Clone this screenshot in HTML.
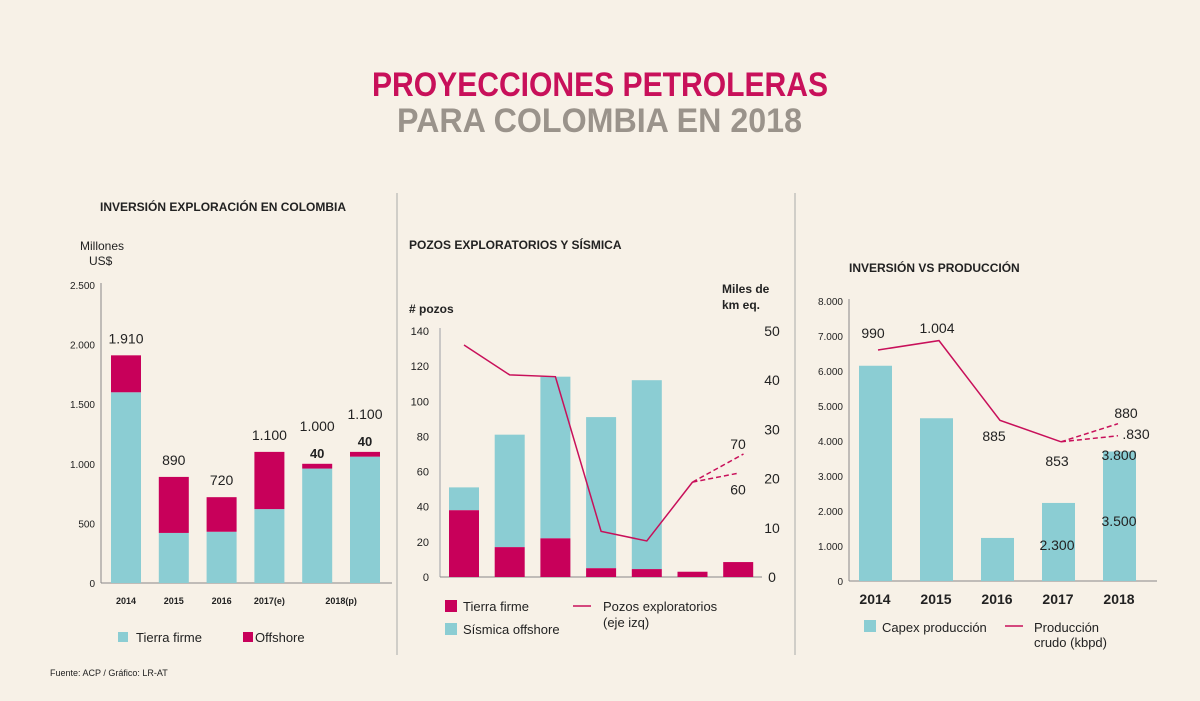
<!DOCTYPE html>
<html><head><meta charset="utf-8"><style>
html,body{margin:0;padding:0;background:#f7f1e7;}
svg{display:block;font-family:"Liberation Sans",sans-serif;}
</style></head><body>
<svg id="s" width="1200" height="701" viewBox="0 0 1200 701">
<rect width="1200" height="701" fill="#f7f1e7"/>
<text x="372" y="96" textLength="456" lengthAdjust="spacingAndGlyphs" font-size="34" font-weight="bold" fill="#c8105a">PROYECCIONES PETROLERAS</text>
<text x="397" y="132" textLength="405" lengthAdjust="spacingAndGlyphs" font-size="34" font-weight="bold" fill="#9a938b">PARA COLOMBIA EN 2018</text>
<line x1="397" y1="193" x2="397" y2="655" stroke="#aaa" stroke-width="1"/>
<line x1="795" y1="193" x2="795" y2="655" stroke="#aaa" stroke-width="1"/>
<text x="100" y="211" font-size="12" font-weight="bold" fill="#222">INVERSIÓN EXPLORACIÓN EN COLOMBIA</text>
<text x="409" y="249" font-size="12" font-weight="bold" fill="#222">POZOS EXPLORATORIOS Y SÍSMICA</text>
<text x="849" y="272" font-size="12" font-weight="bold" fill="#222">INVERSIÓN VS PRODUCCIÓN</text>
<text x="80" y="250" font-size="12" fill="#222">Millones</text>
<text x="89" y="265" font-size="12" fill="#222">US$</text>
<text x="409" y="313" font-size="12" font-weight="bold" fill="#222"># pozos</text>
<text x="722" y="293" font-size="12" font-weight="bold" fill="#222">Miles de</text>
<text x="722" y="309" font-size="12" font-weight="bold" fill="#222">km eq.</text>
<text x="50" y="676" font-size="9" fill="#222">Fuente: ACP / Gráfico: LR-AT</text>
<rect x="118" y="632" width="10" height="10" fill="#8bcdd3"/>
<text x="136" y="642" font-size="13" fill="#222">Tierra firme</text>
<rect x="243" y="632" width="10" height="10" fill="#c8005a"/>
<text x="255" y="642" font-size="13" fill="#222">Offshore</text>
<rect x="445" y="600" width="12" height="12" fill="#c8005a"/>
<text x="463" y="611" font-size="13" fill="#222">Tierra firme</text>
<rect x="445" y="623" width="12" height="12" fill="#8bcdd3"/>
<text x="463" y="634" font-size="13" fill="#222">Sísmica offshore</text>
<line x1="573" y1="606" x2="591" y2="606" stroke="#c8105a" stroke-width="1.5"/>
<text x="603" y="611" font-size="13" fill="#222">Pozos exploratorios</text>
<text x="603" y="627" font-size="13" fill="#222">(eje izq)</text>
<rect x="864" y="620" width="12" height="12" fill="#8bcdd3"/>
<text x="882" y="632" font-size="13" fill="#222">Capex producción</text>
<line x1="1005" y1="626" x2="1023" y2="626" stroke="#c8105a" stroke-width="1.5"/>
<text x="1034" y="632" font-size="13" fill="#222">Producción</text>
<text x="1034" y="647" font-size="13" fill="#222">crudo (kbpd)</text>
</svg>
<script>
// Chart 1 data
const c1Cats=["2014","2015","2016","2017(e)","",""];
const c1Tierra=[1600,420,430,620,960,1060];
const c1Total=[1910,890,720,1100,1000,1100];
const c1Ticks=[0,500,1000,1500,2000,2500];
const c1TickLabels=["0","500","1.000","1.500","2.000","2.500"];
const c1Labels=["1.910","890","720","1.100","1.000","1.100"];
const c1Sub=["","","","","40","40"];
// Chart 2 data
const c2Tierra=[38,17,22,5,4.5,3,8.5];
const c2Total=[51,81,114,91,112,3,8.5];
const c2Pozos=[132,115,114,26,20.5,54];
const c2ProjHigh=70, c2ProjLow=59;
const c2LeftTicks=[0,20,40,60,80,100,120,140];
const c2RightTicks=[0,10,20,30,40,50];
// Chart 3 data
const c3Cats=["2014","2015","2016","2017","2018"];
const c3Capex=[6150,4650,1230,2230,3700];
const c3Prod=[990,1004,885,853];
const c3ProjHigh=880, c3ProjLow=830;
const c3Ticks=[0,1000,2000,3000,4000,5000,6000,7000,8000];
const c3TickLabels=["0","1.000","2.000","3.000","4.000","5.000","6.000","7.000","8.000"];

const NS="http://www.w3.org/2000/svg", S=document.getElementById('s');
const TEAL="#8bcdd3", RED="#c8005a", LINE="#c8105a";
function mk(t,a,txt){const e=document.createElementNS(NS,t);for(const k in a)e.setAttribute(k,a[k]);if(txt!==undefined)e.textContent=txt;S.appendChild(e);return e;}

// Chart 1
const y1=v=>583-v*298/2500, x1=i=>111+i*47.8;
let e=mk('line',{x1:101,y1:283,x2:101,y2:583,stroke:'#888'});


e=mk('line',{x1:101,y1:583,x2:392,y2:583,stroke:'#888'});


c1Ticks.forEach((t,i)=>{e=mk('text',{x:95,y:y1(t)+4,'font-size':10,'text-anchor':'end',fill:'#222'},c1TickLabels[i]);

});
c1Total.forEach((tot,i)=>{
 const x=x1(i);
 e=mk('rect',{x:x,y:y1(c1Tierra[i]),width:30,height:583-y1(c1Tierra[i]),fill:TEAL});
 
 
 e=mk('rect',{x:x,y:y1(tot),width:30,height:y1(c1Tierra[i])-y1(tot),fill:RED});
 
 
 const sub=c1Sub[i];
 e=mk('text',{x:x+15,y:y1(tot)-(sub?33:12),'font-size':14,'text-anchor':'middle',fill:'#222'},c1Labels[i]);
 
 
 if(sub){e=mk('text',{x:x+15,y:y1(tot)-6,'font-size':13,'font-weight':'bold','text-anchor':'middle',fill:'#222'},sub);
 
 }
 if(c1Cats[i]){e=mk('text',{x:x+15,y:604,'font-size':9,'font-weight':'bold','text-anchor':'middle',fill:'#222'},c1Cats[i]);
 
 }
});
e=mk('text',{x:x1(4.5)+15,y:604,'font-size':9,'font-weight':'bold','text-anchor':'middle',fill:'#222'},"2018(p)");



// Chart 2
const y2=v=>577-v*246/140, yr=v=>577-v*246/50, x2=i=>449+i*45.7;
e=mk('line',{x1:440,y1:328,x2:440,y2:577,stroke:'#bbb',"stroke-width":1.5});


e=mk('line',{x1:440,y1:577,x2:762,y2:577,stroke:'#888'});


c2LeftTicks.forEach(t=>{e=mk('text',{x:429,y:y2(t)+4,'font-size':11,'text-anchor':'end',fill:'#222'},String(t));

});
c2RightTicks.forEach(t=>{e=mk('text',{x:772,y:yr(t)+5,'font-size':14,'text-anchor':'middle',fill:'#222'},String(t));

});
c2Total.forEach((tot,i)=>{
 const x=x2(i);
 if(tot>c2Tierra[i]){e=mk('rect',{x:x,y:y2(tot),width:30,height:y2(c2Tierra[i])-y2(tot),fill:TEAL});
 
 }
 e=mk('rect',{x:x,y:y2(c2Tierra[i]),width:30,height:577-y2(c2Tierra[i]),fill:RED});
 
 
});
e=mk('polyline',{points:c2Pozos.map((v,i)=>(x2(i)+15)+','+y2(v)).join(' '),fill:'none',stroke:LINE,'stroke-width':1.5});


const l2=c2Pozos.length-1, lx=x2(l2)+15, ly=y2(c2Pozos[l2]);
e=mk('line',{x1:lx,y1:ly,x2:lx+51,y2:y2(c2ProjHigh),stroke:LINE,'stroke-width':1.5,'stroke-dasharray':'5,3'});


e=mk('line',{x1:lx,y1:ly,x2:lx+45,y2:y2(c2ProjLow),stroke:LINE,'stroke-width':1.5,'stroke-dasharray':'5,3'});


e=mk('text',{x:738,y:y2(c2ProjHigh)-5,'font-size':14,'text-anchor':'middle',fill:'#222'},String(c2ProjHigh));


e=mk('text',{x:738,y:y2(c2ProjLow)+21,'font-size':14,'text-anchor':'middle',fill:'#222'},String(Math.round(c2ProjLow/10)*10));



// Chart 3
const y3=v=>581-v*280/8000, x3=i=>859+i*61, yp=v=>350+(990-v)*0.67;
e=mk('line',{x1:849,y1:299,x2:849,y2:581,stroke:'#888'});


e=mk('line',{x1:849,y1:581,x2:1157,y2:581,stroke:'#888'});


c3Ticks.forEach((t,i)=>{e=mk('text',{x:843,y:y3(t)+4,'font-size':10,'text-anchor':'end',fill:'#222'},c3TickLabels[i]);

});
c3Capex.forEach((v,i)=>{
 e=mk('rect',{x:x3(i),y:y3(v),width:33,height:581-y3(v),fill:TEAL});
 
 
 e=mk('text',{x:x3(i)+16,y:604,'font-size':14,'font-weight':'bold','text-anchor':'middle',fill:'#222'},c3Cats[i]);
 
 
});
e=mk('polyline',{points:c3Prod.map((v,i)=>(x3(i)+19)+','+yp(v)).join(' '),fill:'none',stroke:LINE,'stroke-width':1.5});


const p3=c3Prod.length-1, px=x3(p3)+19, py=yp(c3Prod[p3]);
e=mk('line',{x1:px,y1:py,x2:px+57,y2:yp(c3ProjHigh),stroke:LINE,'stroke-width':1.5,'stroke-dasharray':'5,3'});


e=mk('line',{x1:px,y1:py,x2:px+57,y2:py-6,stroke:LINE,'stroke-width':1.5,'stroke-dasharray':'5,3'});


const c3Text=[["990",873,338],["1.004",937,333],["885",994,441],["853",1057,466],["880",1126,418],[".830",1136,439],["3.800",1119,460],["3.500",1119,526],["2.300",1057,550]];
c3Text.forEach(t=>{e=mk('text',{x:t[1],y:t[2],'font-size':14,'text-anchor':'middle',fill:'#222'},t[0]);

});
</script>
</body></html>
